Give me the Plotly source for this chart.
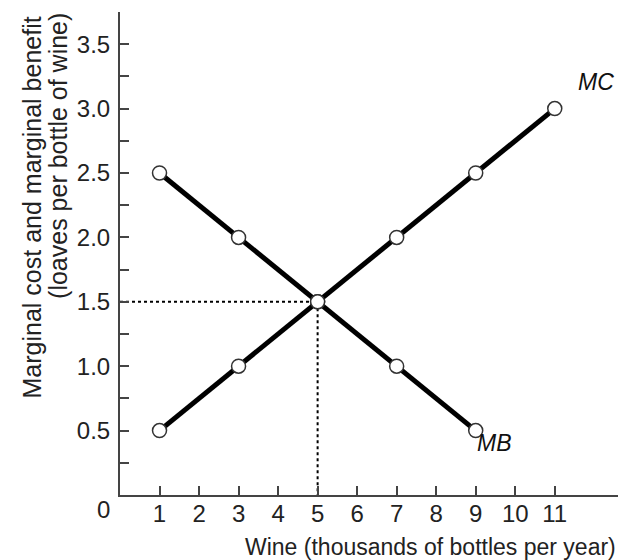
import plotly.graph_objects as go

# Marginal benefit and marginal cost schedules (thousands of bottles, loaves per bottle)
mb_qty = [1, 3, 5, 7, 9]
mb_val = [2.5, 2.0, 1.5, 1.0, 0.5]
mc_qty = [1, 3, 5, 7, 9, 11]
mc_val = [0.5, 1.0, 1.5, 2.0, 2.5, 3.0]

eq_qty = 5
eq_val = 1.5

x_ticks = [1, 2, 3, 4, 5, 6, 7, 8, 9, 10, 11]
y_ticks = [0.5, 1.0, 1.5, 2.0, 2.5, 3.0, 3.5]
y_minor = [0.25, 0.75, 1.25, 1.75, 2.25, 2.75, 3.25]

FONT = "Liberation Sans"
TXT = '#222222'

fig = go.Figure()

# dotted guides to the equilibrium point
fig.add_trace(go.Scatter(
    x=[0, eq_qty, eq_qty], y=[eq_val, eq_val, 0],
    mode='lines', line=dict(color='black', width=2, dash='dot'),
    hoverinfo='skip', showlegend=False
))

for xs, ys, name in [(mb_qty, mb_val, 'MB'), (mc_qty, mc_val, 'MC')]:
    fig.add_trace(go.Scatter(
        x=xs, y=ys, name=name,
        mode='lines+markers',
        line=dict(color='black', width=5),
        marker=dict(symbol='circle', size=14, color='white',
                    line=dict(color='#333333', width=1.5)),
        showlegend=False
    ))

fig.add_annotation(x=12.05, y=3.21, text='<i>MC</i>', showarrow=False,
                   font=dict(family=FONT, size=23, color='#111111'))
fig.add_annotation(x=9.47, y=0.40, text='<i>MB</i>', showarrow=False,
                   font=dict(family=FONT, size=23, color='#111111'))

# origin label
fig.add_annotation(x=-0.034, y=-0.031, xref='paper', yref='paper', text='0',
                   xanchor='center', yanchor='middle',
                   showarrow=False, font=dict(family=FONT, size=24, color=TXT))

# axis titles
fig.add_annotation(x=1.0, y=-0.108, xref='paper', yref='paper',
                   xanchor='right', yanchor='middle',
                   text='Wine (thousands of bottles per year)', showarrow=False,
                   font=dict(family=FONT, size=23, color=TXT))
fig.add_annotation(x=-0.177, y=0.595, xref='paper', yref='paper',
                   xanchor='center', yanchor='middle', textangle=-90,
                   text='Marginal cost and marginal benefit', showarrow=False,
                   font=dict(family=FONT, size=25, color=TXT))
fig.add_annotation(x=-0.1245, y=0.702, xref='paper', yref='paper',
                   xanchor='center', yanchor='middle', textangle=-90,
                   text='(loaves per bottle of wine)', showarrow=False,
                   font=dict(family=FONT, size=25, color=TXT))

# page has an 8px body margin, so the figure is sized to the visible area
fig.update_layout(
    width=618, height=552,
    margin=dict(l=112, r=8, t=4, b=65),
    paper_bgcolor='white', plot_bgcolor='white',
    font=dict(family=FONT, size=24, color=TXT),
    xaxis=dict(
        range=[0, 12.6], tickvals=x_ticks, ticks='inside', ticklen=9,
        tickwidth=1.5, tickcolor='#444444', showline=True, linecolor='#444444',
        linewidth=2, showgrid=False, zeroline=False, ticklabelstandoff=-4
    ),
    yaxis=dict(
        range=[0, 3.75], tickvals=y_ticks, ticktext=[f'{v:.1f}' for v in y_ticks],
        ticks='inside', ticklen=9, tickwidth=1.5, tickcolor='#444444',
        showline=True, linecolor='#444444', linewidth=2, showgrid=False,
        zeroline=False, ticklabelstandoff=3,
        minor=dict(tickvals=y_minor, ticks='inside', ticklen=9,
                   tickwidth=1.5, tickcolor='#444444')
    ),
)

fig.write_html("out.html")
